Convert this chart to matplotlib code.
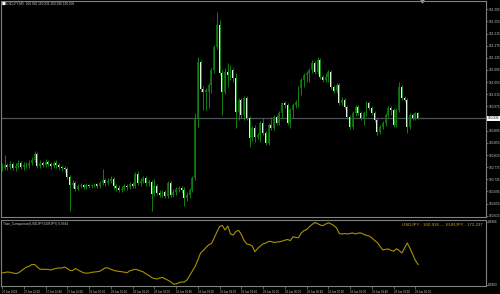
import matplotlib
matplotlib.use("Agg")
import matplotlib.pyplot as plt
import numpy as np

plt.rcParams['font.family'] = ['Liberation Sans', 'DejaVu Sans']

W, H = 500, 294

# USDJPY M5 candles (27 Jun 21:20 -> 28 Jun 10:05)
opens = [
    160.779, 160.772, 160.782, 160.776, 160.785, 160.772, 160.779, 160.789, 160.776, 160.782,
    160.779, 160.789, 160.799, 160.818, 160.779, 160.789, 160.782, 160.792, 160.785, 160.779,
    160.789, 160.782, 160.776, 160.772, 160.769, 160.743, 160.716, 160.723, 160.703, 160.713,
    160.716, 160.710, 160.716, 160.713, 160.716, 160.720, 160.713, 160.723, 160.733, 160.723,
    160.730, 160.736, 160.713, 160.707, 160.700, 160.703, 160.713, 160.710, 160.720, 160.713,
    160.753, 160.723, 160.730, 160.739, 160.723, 160.726, 160.687, 160.713, 160.690, 160.683,
    160.693, 160.680, 160.723, 160.683, 160.693, 160.703, 160.707, 160.700, 160.674, 160.683,
    160.700, 160.739, 160.936, 161.121, 161.032, 161.022, 161.022, 161.045, 161.095, 161.170,
    161.243, 161.085, 161.022, 161.088, 161.078, 161.095, 161.068, 160.957, 160.996, 160.947,
    161.003, 160.936, 160.871, 160.904, 160.874, 160.881, 160.920, 160.887, 160.855, 160.914,
    160.904, 160.940, 160.920, 160.953, 160.986, 160.980, 160.920, 160.963, 160.980, 160.989,
    161.035, 161.062, 161.078, 161.085, 161.095, 161.118, 161.088, 161.128, 161.072, 161.062,
    161.072, 161.088, 161.039, 161.026, 161.045, 160.986, 160.996, 160.973, 160.940, 160.907,
    160.953, 160.973, 160.953, 160.936, 160.953, 160.986, 160.970, 160.953, 160.930, 160.891,
    160.907, 160.920, 160.947, 160.970, 160.963, 160.914, 160.963, 161.039, 161.003, 160.996,
    160.907, 160.947, 160.936, 160.953,
]
closes = [
    160.772, 160.782, 160.776, 160.785, 160.772, 160.779, 160.789, 160.776, 160.782, 160.779,
    160.789, 160.799, 160.818, 160.779, 160.789, 160.782, 160.792, 160.785, 160.779, 160.789,
    160.782, 160.776, 160.772, 160.769, 160.743, 160.716, 160.723, 160.703, 160.713, 160.716,
    160.710, 160.716, 160.713, 160.716, 160.720, 160.713, 160.723, 160.733, 160.723, 160.730,
    160.736, 160.713, 160.707, 160.700, 160.703, 160.713, 160.710, 160.720, 160.713, 160.753,
    160.723, 160.730, 160.739, 160.723, 160.726, 160.687, 160.713, 160.690, 160.683, 160.693,
    160.680, 160.723, 160.683, 160.693, 160.703, 160.707, 160.700, 160.674, 160.683, 160.700,
    160.739, 160.936, 161.121, 161.032, 161.022, 161.029, 161.045, 161.095, 161.170, 161.243,
    161.085, 161.022, 161.088, 161.078, 161.095, 161.068, 160.957, 160.996, 160.947, 161.003,
    160.936, 160.871, 160.904, 160.874, 160.881, 160.920, 160.887, 160.855, 160.914, 160.904,
    160.940, 160.920, 160.953, 160.986, 160.980, 160.920, 160.963, 160.980, 160.989, 161.035,
    161.062, 161.078, 161.085, 161.095, 161.118, 161.088, 161.128, 161.072, 161.062, 161.072,
    161.088, 161.039, 161.026, 161.045, 160.986, 160.996, 160.973, 160.940, 160.907, 160.953,
    160.973, 160.953, 160.936, 160.953, 160.986, 160.970, 160.953, 160.930, 160.891, 160.907,
    160.920, 160.947, 160.970, 160.963, 160.914, 160.963, 161.039, 161.003, 160.996, 160.907,
    160.947, 160.936, 160.953, 160.936,
]
highs = [
    160.789, 160.815, 160.789, 160.795, 160.792, 160.789, 160.799, 160.795, 160.792, 160.792,
    160.799, 160.808, 160.828, 160.825, 160.799, 160.795, 160.802, 160.799, 160.792, 160.795,
    160.799, 160.789, 160.782, 160.779, 160.776, 160.749, 160.733, 160.730, 160.720, 160.723,
    160.720, 160.723, 160.720, 160.720, 160.723, 160.723, 160.730, 160.769, 160.739, 160.739,
    160.746, 160.743, 160.720, 160.716, 160.713, 160.720, 160.720, 160.726, 160.726, 160.759,
    160.762, 160.739, 160.746, 160.746, 160.733, 160.733, 160.736, 160.720, 160.700, 160.700,
    160.700, 160.730, 160.730, 160.703, 160.710, 160.713, 160.713, 160.710, 160.693, 160.707,
    160.746, 160.953, 161.137, 161.128, 161.042, 161.035, 161.052, 161.101, 161.177, 161.286,
    161.259, 161.095, 161.101, 161.118, 161.111, 161.101, 161.085, 161.003, 161.003, 161.009,
    161.009, 160.943, 160.910, 160.914, 160.887, 160.927, 160.936, 160.894, 160.920, 160.940,
    160.947, 160.947, 160.960, 160.989, 160.993, 160.986, 160.970, 160.986, 160.996, 161.042,
    161.068, 161.085, 161.091, 161.101, 161.128, 161.124, 161.137, 161.134, 161.078, 161.085,
    161.095, 161.095, 161.045, 161.052, 161.052, 161.006, 161.003, 160.980, 160.947, 160.960,
    160.980, 160.980, 160.960, 160.960, 160.993, 160.993, 160.976, 160.960, 160.936, 160.914,
    160.927, 160.953, 160.976, 160.976, 160.970, 160.970, 161.055, 161.045, 161.009, 161.003,
    160.953, 160.953, 160.957, 160.957,
]
lows = [
    160.762, 160.766, 160.766, 160.769, 160.766, 160.762, 160.772, 160.769, 160.766, 160.772,
    160.772, 160.782, 160.792, 160.772, 160.772, 160.776, 160.776, 160.779, 160.769, 160.772,
    160.772, 160.766, 160.762, 160.759, 160.736, 160.631, 160.707, 160.697, 160.700, 160.707,
    160.703, 160.703, 160.707, 160.707, 160.710, 160.707, 160.707, 160.716, 160.713, 160.716,
    160.723, 160.703, 160.697, 160.693, 160.693, 160.700, 160.700, 160.703, 160.707, 160.707,
    160.716, 160.713, 160.723, 160.713, 160.713, 160.631, 160.680, 160.683, 160.677, 160.677,
    160.674, 160.674, 160.677, 160.677, 160.683, 160.693, 160.690, 160.647, 160.664, 160.674,
    160.693, 160.733, 160.907, 161.022, 160.963, 160.963, 160.970, 161.019, 161.085, 161.164,
    161.078, 160.947, 161.016, 161.039, 161.062, 161.055, 160.904, 160.930, 160.936, 160.930,
    160.930, 160.841, 160.861, 160.858, 160.868, 160.858, 160.881, 160.848, 160.848, 160.897,
    160.897, 160.914, 160.914, 160.936, 160.970, 160.914, 160.904, 160.936, 160.970, 160.973,
    161.012, 161.039, 161.055, 161.055, 161.085, 161.082, 161.082, 161.065, 161.055, 161.055,
    161.055, 161.032, 161.019, 161.019, 160.980, 160.980, 160.966, 160.934, 160.901, 160.901,
    160.943, 160.947, 160.930, 160.914, 160.943, 160.963, 160.947, 160.924, 160.881, 160.884,
    160.901, 160.910, 160.940, 160.947, 160.907, 160.907, 160.957, 160.996, 160.989, 160.887,
    160.901, 160.930, 160.930, 160.934,
]

# Titan_Comparison(USDJPY,EURJPY) line, one value per bar
ratio = [
    0.93150, 0.93155, 0.93160, 0.93157, 0.93150, 0.93145, 0.93150, 0.93170, 0.93190, 0.93210,
    0.93217, 0.93235, 0.93235, 0.93210, 0.93187, 0.93187, 0.93187, 0.93185, 0.93180, 0.93190,
    0.93197, 0.93200, 0.93200, 0.93210, 0.93195, 0.93175, 0.93175, 0.93195, 0.93180, 0.93165,
    0.93152, 0.93148, 0.93150, 0.93157, 0.93160, 0.93163, 0.93168, 0.93185, 0.93202, 0.93200,
    0.93187, 0.93177, 0.93170, 0.93167, 0.93163, 0.93158, 0.93153, 0.93172, 0.93180, 0.93187,
    0.93180, 0.93170, 0.93160, 0.93140, 0.93125, 0.93105, 0.93095, 0.93090, 0.93100, 0.93105,
    0.93092, 0.93078, 0.93062, 0.93040, 0.93040, 0.93053, 0.93060, 0.93060, 0.93080, 0.93125,
    0.93170, 0.93215, 0.93280, 0.93350, 0.93375, 0.93405, 0.93432, 0.93445, 0.93500, 0.93560,
    0.93615, 0.93625, 0.93580, 0.93620, 0.93540, 0.93530, 0.93565, 0.93577, 0.93535, 0.93475,
    0.93440, 0.93435, 0.93420, 0.93363, 0.93395, 0.93420, 0.93442, 0.93450, 0.93465, 0.93465,
    0.93455, 0.93460, 0.93462, 0.93469, 0.93478, 0.93485, 0.93474, 0.93513, 0.93505, 0.93503,
    0.93550, 0.93573, 0.93585, 0.93613, 0.93635, 0.93655, 0.93644, 0.93630, 0.93623, 0.93640,
    0.93652, 0.93640, 0.93625, 0.93600, 0.93545, 0.93540, 0.93545, 0.93540, 0.93546, 0.93550,
    0.93540, 0.93550, 0.93550, 0.93537, 0.93526, 0.93520, 0.93500, 0.93475, 0.93455, 0.93415,
    0.93380, 0.93387, 0.93390, 0.93377, 0.93368, 0.93392, 0.93375, 0.93350, 0.93400, 0.93450,
    0.93397, 0.93335, 0.93275, 0.93235,
]

price_ticks = [161.295, 161.255, 161.215, 161.175, 161.135, 161.095, 161.055, 161.015,
               160.975, 160.895, 160.855, 160.815, 160.775, 160.735, 160.695, 160.655, 160.615]
ratio_ticks = [0.9366, 0.9303]
time_labels = ["27 Jun 2024", "27 Jun 22:00", "27 Jun 22:40", "27 Jun 23:20", "28 Jun 00:00",
               "28 Jun 00:40", "28 Jun 01:20", "28 Jun 02:00", "28 Jun 02:40", "28 Jun 03:20",
               "28 Jun 04:00", "28 Jun 04:40", "28 Jun 05:20", "28 Jun 06:00", "28 Jun 06:40",
               "28 Jun 07:20", "28 Jun 08:00", "28 Jun 08:40", "28 Jun 09:20", "28 Jun 10:00"]
usdjpy_last = "160.936"
eurjpy_last = "172.237"

GRAY = '#808080'
TXT = '#c8c8c8'
BULL = '#0a660a'
BEAR = '#d9f7d9'
WICK = '#108010'
LINE = '#a89200'

o = np.array(opens)
c = np.array(closes)
idx = np.arange(len(c))
spacing = 2.72  # px per bar

fig = plt.figure(figsize=(W / 100, H / 100), dpi=100, facecolor='black')
ax = fig.add_axes([1 / W, 1 - 217 / H, 485 / W, 216 / H], facecolor='black')
ind = fig.add_axes([1 / W, 1 - 286 / H, 485 / W, 66 / H], facecolor='black', sharex=ax)

# candles
ax.vlines(idx, lows, highs, color=WICK, lw=0.7)
body_col = [BULL if cc >= oo else BEAR for oo, cc in zip(o, c)]
ax.bar(idx, np.abs(c - o), bottom=np.minimum(o, c), width=0.72, color=body_col, lw=0)

ax.set_xlim(-1 / spacing, 484 / spacing)
ax.set_ylim(160.611, 161.322)

# current price line and label
ax.axhline(c[-1], color='#4c5158', lw=0.9, zorder=0)
ax.text(1.003, c[-1], f'{c[-1]:.3f}', transform=ax.get_yaxis_transform(),
        ha='left', va='center', fontsize=2.3, color='black', clip_on=False,
        bbox=dict(facecolor='white', edgecolor='none', pad=0.5))

ax.set_yticks(price_ticks)
ax.set_yticklabels([f'{p:.3f}' for p in price_ticks])
ax.tick_params(axis='y', left=False, right=True, labelleft=False, labelright=True,
               length=1.2, width=0.5, color=GRAY, labelsize=2.3, labelcolor=TXT, pad=0.5)
ax.tick_params(axis='x', bottom=False, labelbottom=False)

# chart shift marker
ax.plot([0.868], [1.0], marker='v', ms=2.2, color='#9a9a9a', transform=ax.transAxes, clip_on=False)

# indicator pane
ind.plot(idx, ratio, color=LINE, lw=0.8)
ind.set_ylim(0.9302, 0.9368)
ind.set_yticks(ratio_ticks)
ind.set_yticklabels([f'{v:.4f}' for v in ratio_ticks])
ind.tick_params(axis='y', left=False, right=True, labelleft=False, labelright=True,
                length=1.2, width=0.5, color=GRAY, labelsize=2.3, labelcolor=TXT, pad=0.5)
ind.set_xticks(idx[::8][:len(time_labels)])
ind.set_xticklabels(time_labels, ha='left')
ind.tick_params(axis='x', length=2, width=0.5, color=GRAY, labelsize=2.0, labelcolor=TXT, pad=0.8)

ind.text(0.004, 0.975, 'Titan_Comparison(USDJPY,EURJPY) 0.9344', transform=ind.transAxes,
         ha='left', va='top', fontsize=2.3, color=TXT)
ind.text(0.994, 0.92, f'USDJPY : {usdjpy_last} --- EURJPY : {eurjpy_last}',
         transform=ind.transAxes, ha='right', va='center', fontsize=3.2, color='#c8aa00')

for a in (ax, ind):
    for s in a.spines.values():
        s.set_color(GRAY)
        s.set_linewidth(0.8)

# header
fig.text(2 / W, 1 - 4 / H, '■', fontsize=3, color='white', va='center', ha='left',
         family='DejaVu Sans')
fig.text(6 / W, 1 - 4 / H, f'USDJPY,M5  {usdjpy_last} {usdjpy_last} {usdjpy_last} {usdjpy_last}',
         fontsize=2.3, color=TXT, va='center', ha='left')

fig.savefig('out.png', dpi=100, facecolor='black')
